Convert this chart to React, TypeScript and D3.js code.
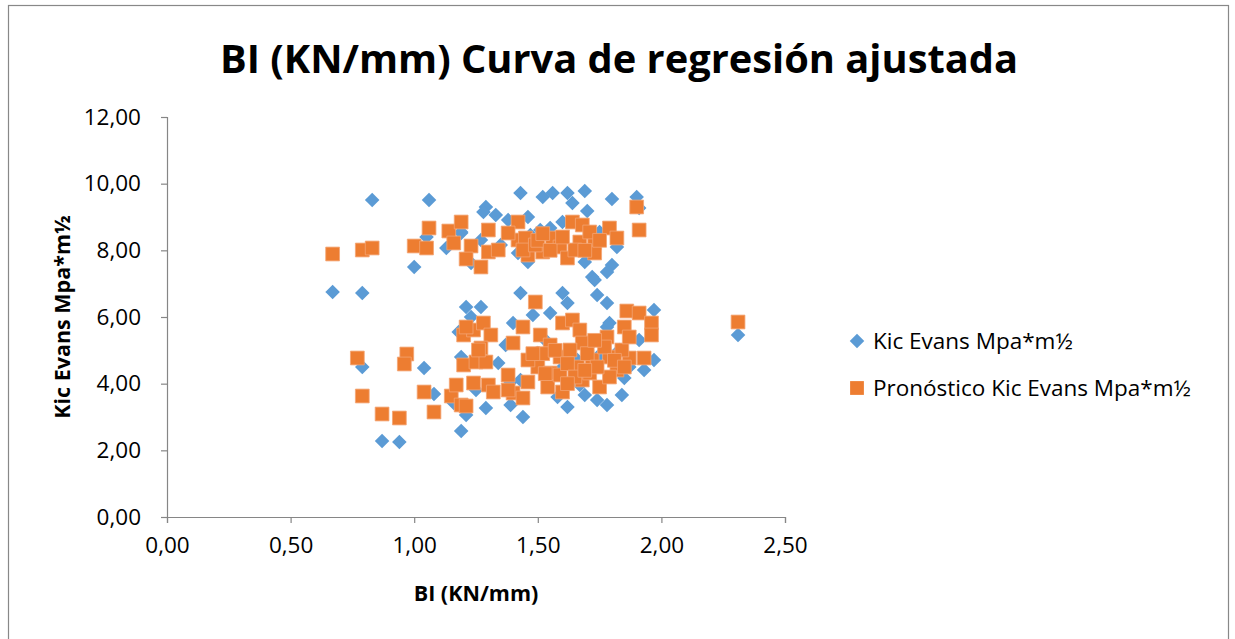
import React, { useRef, useEffect } from "react";
import { select, scaleLinear, axisBottom, axisLeft, format, symbol, symbolSquare } from "d3";

// BI (KN/mm) vs Kic Evans, observed values
const kicEvans: [number, number][] = [
  [0.83, 9.51], [1.06, 9.51], [1.0, 7.5], [1.29, 9.3], [1.28, 9.15], [1.33, 9.06],
  [1.13, 8.07], [1.19, 8.55], [1.05, 8.4], [1.23, 7.62], [1.43, 9.72], [1.52, 9.6],
  [1.56, 9.72], [1.62, 9.72], [1.69, 9.78], [1.64, 9.42], [1.7, 9.18], [1.8, 9.54],
  [1.9, 9.6], [1.91, 9.27], [1.38, 8.91], [1.46, 9.0], [1.6, 8.85], [1.55, 8.67],
  [1.51, 8.61], [1.19, 8.52], [1.42, 7.92], [1.46, 7.65], [1.69, 7.65], [1.82, 8.1],
  [1.8, 7.56], [1.78, 7.35], [1.72, 7.2], [1.73, 7.11], [1.35, 8.16], [1.57, 8.31],
  [1.27, 8.31], [1.75, 8.55], [1.65, 8.07], [1.47, 8.46],
  [0.67, 6.75], [0.79, 6.72], [1.43, 6.72], [1.6, 6.72], [1.74, 6.66], [1.62, 6.42],
  [1.78, 6.42], [1.21, 6.3], [1.27, 6.3], [1.97, 6.21], [2.31, 5.46], [1.97, 4.71],
  [1.93, 4.41], [1.87, 4.5], [1.84, 3.66], [1.78, 3.36], [1.74, 3.51], [1.69, 3.66],
  [1.62, 3.3], [1.44, 3.0], [1.39, 3.36], [1.29, 3.27], [1.21, 3.06], [1.19, 2.58],
  [1.5, 4.92], [1.78, 5.7], [1.85, 4.17], [1.4, 5.82], [1.23, 6.0], [1.48, 6.06],
  [1.55, 6.12], [1.34, 4.62], [1.19, 4.8], [1.16, 3.42], [1.58, 3.6], [1.79, 5.82],
  [0.79, 4.5], [1.04, 4.47], [1.08, 3.69], [0.87, 2.28], [0.94, 2.25], [1.18, 5.55],
  [1.25, 3.81], [1.53, 5.31], [1.66, 4.71], [1.71, 5.16], [1.43, 4.11], [1.59, 4.41],
  [1.75, 4.86], [1.91, 5.31], [1.37, 5.16], [1.67, 3.96], [1.83, 5.01], [1.39, 4.05],
];

// Pronóstico (fitted) values
const pronostico: [number, number][] = [
  [0.67, 7.89], [0.79, 8.01], [0.83, 8.07], [1.0, 8.13], [1.05, 8.07], [1.06, 8.67],
  [1.14, 8.58], [1.19, 8.85], [1.16, 8.22], [1.23, 8.13], [1.21, 7.74], [1.27, 7.5],
  [1.3, 8.61], [1.3, 7.95], [1.34, 8.01], [1.42, 8.85], [1.42, 8.31], [1.38, 8.52],
  [1.45, 8.37], [1.46, 7.86], [1.52, 7.95], [1.56, 8.37], [1.59, 8.1], [1.62, 7.77],
  [1.64, 8.85], [1.68, 8.76], [1.67, 8.25], [1.73, 8.22], [1.73, 7.92], [1.79, 8.67],
  [1.82, 8.37], [1.9, 9.3], [1.91, 8.61], [1.44, 8.01], [1.49, 8.16], [1.65, 8.01],
  [1.71, 8.55], [1.5, 8.3], [1.55, 8.0], [1.6, 8.4], [1.69, 8.0], [1.75, 8.3], [1.52, 8.5],
  [0.77, 4.77], [0.79, 3.63], [0.87, 3.09], [0.94, 2.97], [0.97, 4.89], [0.96, 4.59],
  [1.04, 3.75], [1.08, 3.15], [1.15, 3.63], [1.19, 3.36], [1.2, 5.46], [1.24, 5.61],
  [1.28, 5.82], [1.31, 5.46], [1.27, 5.07], [1.2, 4.56], [1.25, 4.65], [1.29, 4.65],
  [1.17, 3.96], [1.24, 4.02], [1.3, 3.96], [1.32, 3.75], [1.21, 3.33], [1.49, 6.45],
  [1.86, 6.18], [1.91, 6.12], [1.96, 5.82], [1.96, 5.46], [2.31, 5.85], [1.93, 4.77],
  [1.87, 4.77], [1.85, 5.7], [1.21, 5.7], [1.26, 5.01], [1.38, 4.26], [1.4, 5.22],
  [1.44, 5.7], [1.4, 3.72], [1.44, 3.57], [1.46, 4.05], [1.5, 4.5], [1.51, 5.46],
  [1.55, 5.16], [1.6, 5.82], [1.64, 5.91], [1.67, 5.61], [1.68, 5.22], [1.59, 4.8],
  [1.55, 4.32], [1.54, 3.9], [1.6, 3.75], [1.59, 4.26], [1.66, 4.5], [1.68, 4.11],
  [1.72, 4.71], [1.75, 3.9], [1.78, 5.4], [1.79, 4.8], [1.82, 4.41], [1.84, 5.01],
  [1.87, 5.4], [1.71, 4.32], [1.63, 5.01], [1.79, 4.2], [1.46, 4.71], [1.38, 3.81],
  [1.52, 4.9], [1.57, 5.0], [1.62, 4.6], [1.65, 4.2], [1.7, 4.9], [1.74, 4.5],
  [1.77, 5.1], [1.81, 4.7], [1.85, 4.5], [1.53, 4.3], [1.48, 4.9], [1.69, 4.4],
  [1.73, 5.3], [1.62, 4.0],
];

const xTicks = [0, 0.5, 1, 1.5, 2, 2.5];
const yTicks = [0, 2, 4, 6, 8, 10, 12];
const legendLabels = ["Kic Evans Mpa*m½", "Pronóstico Kic Evans Mpa*m½"];

const BLUE = "#5B9BD5";
const ORANGE = "#ED7D31";
const FONT = "'Open Sans', sans-serif";
const LABEL_SIZE = 22.5;

function App() {
  const svgRef = useRef(null);

  useEffect(() => {
    const svg = select(svgRef.current);
    svg.selectAll("*").remove();

    const margin = { left: 167, right: 785, top: 117, bottom: 517 };
    const xScale = scaleLinear().domain([0, 2.5]).range([margin.left, margin.right]);
    const yScale = scaleLinear().domain([0, 12]).range([margin.bottom, margin.top]);
    const fmt = (d) => format(".2f")(d).replace(".", ",");

    // outer frame
    svg.append("rect")
      .attr("x", 8.5).attr("y", 5.5)
      .attr("width", 1220).attr("height", 700)
      .attr("fill", "white").attr("stroke", "#888").attr("stroke-width", 1.2);

    // title
    svg.append("text")
      .attr("x", 619).attr("y", 73)
      .attr("text-anchor", "middle")
      .attr("font-family", FONT).attr("font-weight", "bold").attr("font-size", 40)
      .attr("textLength", 798).attr("lengthAdjust", "spacingAndGlyphs")
      .text("BI (KN/mm) Curva de regresión ajustada");

    // axes
    const xAxis = axisBottom(xScale).tickValues(xTicks).tickFormat(fmt).tickSizeOuter(0).tickSize(6).tickPadding(14);
    const gx = svg.append("g").attr("transform", `translate(0, ${margin.bottom})`).call(xAxis);
    const yAxis = axisLeft(yScale).tickValues(yTicks).tickFormat(fmt).tickSizeOuter(0).tickSize(6).tickPadding(20);
    const gy = svg.append("g").attr("transform", `translate(${margin.left}, 0)`).call(yAxis);

    [gx, gy].forEach((g) => {
      g.select(".domain").attr("stroke", "#868686").attr("stroke-width", 1.2);
      g.selectAll(".tick line").attr("stroke", "#868686").attr("stroke-width", 1.2);
      g.selectAll(".tick text")
        .attr("font-family", FONT).attr("font-size", LABEL_SIZE).attr("fill", "#000");
    });

    // axis titles
    svg.append("text")
      .attr("x", (margin.left + margin.right) / 2).attr("y", 601)
      .attr("text-anchor", "middle")
      .attr("font-family", FONT).attr("font-weight", "bold").attr("font-size", 21.5)
      .text("BI (KN/mm)");
    svg.append("text")
      .attr("transform", `translate(70, ${(margin.top + margin.bottom) / 2}) rotate(-90)`)
      .attr("text-anchor", "middle")
      .attr("font-family", FONT).attr("font-weight", "bold").attr("font-size", 21.5)
      .text("Kic Evans Mpa*m½");

    // diamond = square turned 45 degrees
    const diamond = symbol().type(symbolSquare).size(106);
    const square = symbol().type(symbolSquare).size(190);

    svg.append("g").selectAll("path")
      .data(kicEvans)
      .join("path")
      .attr("d", diamond)
      .attr("transform", (d) => `translate(${xScale(d[0])}, ${yScale(d[1])}) rotate(45)`)
      .attr("fill", BLUE);

    svg.append("g").selectAll("path")
      .data(pronostico)
      .join("path")
      .attr("d", square)
      .attr("transform", (d) => `translate(${xScale(d[0])}, ${yScale(d[1])})`)
      .attr("fill", ORANGE)
      .attr("stroke", "#F4A574").attr("stroke-width", 0.8);

    // legend
    const legend = svg.append("g").attr("transform", "translate(857, 341)");
    legend.selectAll("path")
      .data(legendLabels)
      .join("path")
      .attr("d", (d, i) => (i === 0 ? diamond() : square()))
      .attr("transform", (d, i) => `translate(0, ${i * 47})` + (i === 0 ? " rotate(45)" : ""))
      .attr("fill", (d, i) => (i === 0 ? BLUE : ORANGE));
    legend.selectAll("text")
      .data(legendLabels)
      .join("text")
      .attr("x", 16).attr("y", (d, i) => i * 47)
      .attr("dy", "0.35em")
      .attr("font-family", FONT).attr("font-size", LABEL_SIZE)
      .text((d) => d);
  }, []);

  return (
    <svg
      ref={svgRef}
      width={1235}
      height={639}
      style={{ position: "absolute", left: 0, top: 0, display: "block", background: "white" }}
    />
  );
}

export default App;
